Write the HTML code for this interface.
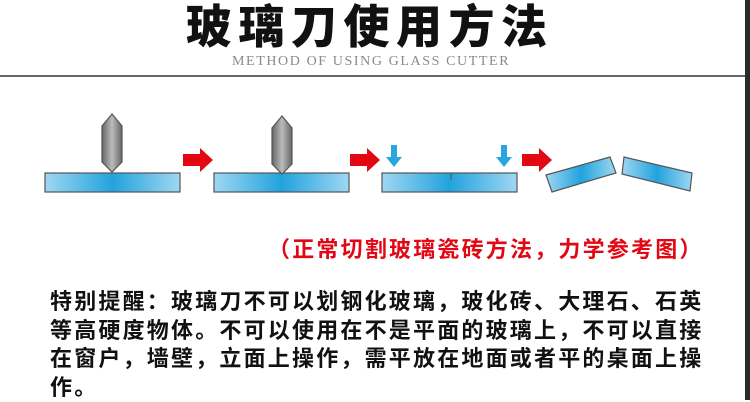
<!DOCTYPE html>
<html><head><meta charset="utf-8"><style>
html,body{margin:0;padding:0;}
body{width:750px;height:400px;background:#fff;position:relative;overflow:hidden;font-family:"Liberation Sans","Noto Sans CJK SC",sans-serif;}
.t{position:absolute;white-space:nowrap;}
</style></head><body>
<div style="position:absolute;right:0;top:0;width:5px;height:400px;background:#2a2a2a"></div>
<div class="t" style="left:186px;top:-9px;font-size:46px;font-weight:900;letter-spacing:6.5px;color:#111;transform:scaleY(1.0)">玻璃刀使用方法</div>
<div class="t" style="left:232px;top:54px;font-family:'Liberation Serif',serif;font-size:14px;letter-spacing:1.6px;color:#8a8a8a">METHOD OF USING GLASS CUTTER</div>
<div style="position:absolute;left:0;top:75px;width:745px;height:2px;background:#666"></div>
<svg width="750" height="220" style="position:absolute;left:0;top:100px" viewBox="0 100 750 220">
<defs>
<linearGradient id="g" x1="0" x2="1" y1="0" y2="0"><stop offset="0" stop-color="#9fd7f2"/><stop offset="0.5" stop-color="#22a3dd"/><stop offset="1" stop-color="#9fd7f2"/></linearGradient>
<linearGradient id="k" x1="0" x2="1"><stop offset="0" stop-color="#666"/><stop offset="0.5" stop-color="#bbb"/><stop offset="1" stop-color="#666"/></linearGradient>
</defs>
<g stroke="#555" stroke-width="1.2">
<rect x="45" y="173" width="135" height="19" fill="url(#g)"/>
<rect x="214" y="173" width="135" height="19" fill="url(#g)"/>
<rect x="382" y="173" width="135" height="19" fill="url(#g)"/>
<polygon points="112,114 122,126 122,162 112,172 102,162 102,126" fill="url(#k)"/>
<polygon points="282,116 292,128 292,164 282,174 272,164 272,128" fill="url(#k)"/>
<polygon points="546,175 610,157 616,173 552,192" fill="url(#g)"/>
<polygon points="624,157 692,173 690,191 622,174" fill="url(#g)"/>
</g>
<line x1="451" y1="173" x2="451" y2="180" stroke="#555"/>
<g fill="#e30613">
<polygon points="183,154 200,154 200,148 213,160 200,172 200,166 183,166"/>
<polygon points="350,154 367,154 367,148 380,160 367,172 367,166 350,166"/>
<polygon points="522,154 539,154 539,148 552,160 539,172 539,166 522,166"/>
</g>
<g fill="#29a6e0">
<polygon points="391,145 397,145 397,157 402,157 394,167 386,157 391,157"/>
<polygon points="501,145 507,145 507,157 512,157 504,167 496,157 501,157"/>
</g>
</svg>
<div class="t" style="left:268px;top:232px;font-size:22px;font-weight:bold;color:#e30613;letter-spacing:2.2px">（正常切割玻璃瓷砖方法，力学参考图）</div>
<div style="position:absolute;left:50px;top:288px;font-size:22px;font-weight:bold;color:#111;line-height:28.5px;letter-spacing:2.2px;white-space:nowrap">特别提醒：玻璃刀不可以划钢化玻璃，玻化砖、大理石、石英<br>等高硬度物体。不可以使用在不是平面的玻璃上，不可以直接<br>在窗户，墙壁，立面上操作，需平放在地面或者平的桌面上操<br>作。</div>
</body></html>
